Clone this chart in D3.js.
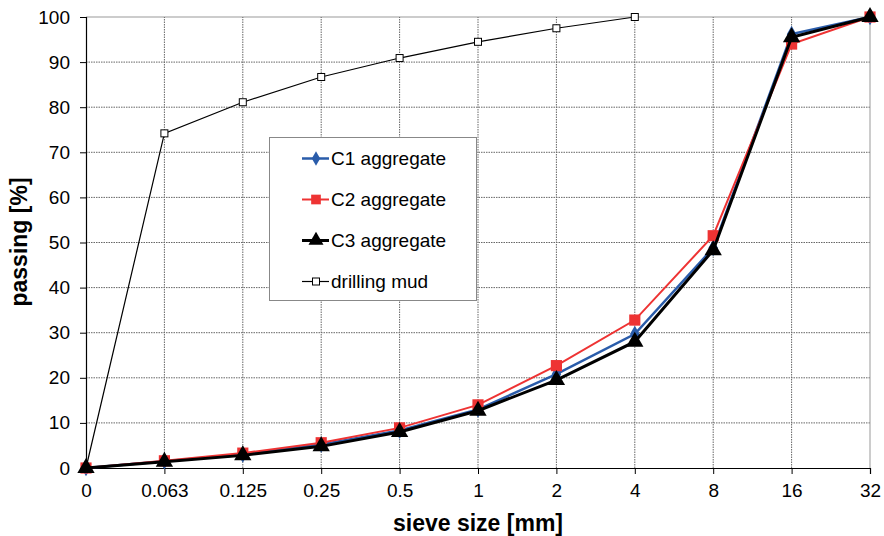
<!DOCTYPE html>
<html>
<head>
<meta charset="utf-8">
<script src="https://cdn.jsdelivr.net/npm/d3@7"></script>
<style>
  body { margin: 0; background: #fff; }
  svg { font-family: "Liberation Sans", Arial, sans-serif; }
</style>
</head>
<body>
<svg width="884" height="536"></svg>
<script>
(() => {

    var width = 884;
    var height = 536;
    var margin = { top: 17, bottom: 68, left: 86, right: 14 };

    // sieve sizes (categories, equally spaced)
    var sieves = ["0", "0.063", "0.125", "0.25", "0.5", "1", "2", "4", "8", "16", "32"];
    var yTicks = [0, 10, 20, 30, 40, 50, 60, 70, 80, 90, 100];

    // passing [%]
    var c1 = [0, 1.5, 3.0, 5.2, 8.3, 13.0, 20.8, 29.7, 48.8, 96.2, 100];
    var c2 = [0, 1.6, 3.3, 5.6, 8.9, 14.0, 22.7, 32.8, 51.5, 94.0, 100];
    var c3 = [0, 1.4, 2.8, 4.8, 8.0, 12.7, 19.5, 28.0, 48.3, 95.5, 100];
    var mud = [0, 74.2, 81.1, 86.7, 90.9, 94.5, 97.5, 100];

    var svg = d3.select('svg');

    var x = d3.scalePoint().domain(sieves).range([margin.left, width - margin.right]);
    var y = d3.scaleLinear().domain([0, 100]).range([height - margin.bottom, margin.top]);

    // grid
    var grid = svg.append('g');
    grid.selectAll('line.h')
        .data(yTicks.slice(1))
        .enter().append('line')
        .attr('x1', margin.left).attr('x2', width - margin.right)
        .attr('y1', d => y(d)).attr('y2', d => y(d))
        .attr('stroke-width', 1)
        .attr('stroke-dasharray', d => d === 100 ? null : '1.5,1')
        .attr('stroke', d => d === 100 ? '#999' : '#666');
    grid.selectAll('line.v')
        .data(sieves.slice(1))
        .enter().append('line')
        .attr('x1', d => x(d)).attr('x2', d => x(d))
        .attr('y1', y(0)).attr('y2', y(100))
        .attr('stroke', d => d === '32' ? '#999' : '#666').attr('stroke-width', 1)
        .attr('stroke-dasharray', d => d === '32' ? null : '1.5,1');

    // axes
    var xAxis = svg.append('g')
        .attr('transform', 'translate(' + [0, y(0)] + ')')
        .call(d3.axisBottom(x).tickSize(6).tickPadding(10));
    var yAxis = svg.append('g')
        .attr('transform', 'translate(' + [margin.left, 0] + ')')
        .call(d3.axisLeft(y).tickValues(yTicks).tickSize(6).tickPadding(10));

    [xAxis, yAxis].forEach(a => {
        a.select('.domain').attr('stroke', '#000').attr('stroke-width', 1.2);
        a.selectAll('.tick line').attr('stroke', '#000');
        a.selectAll('text').attr('font-size', 19).attr('fill', '#000')
            .attr('font-family', '"Liberation Sans", Arial, sans-serif');
    });

    svg.append('text')
        .attr('x', (margin.left + width - margin.right) / 2)
        .attr('y', 531)
        .attr('text-anchor', 'middle')
        .attr('font-size', 23).attr('font-weight', 'bold')
        .text('sieve size [mm]');

    svg.append('text')
        .attr('transform', 'translate(27,' + 242 + ') rotate(-90)')
        .attr('text-anchor', 'middle')
        .attr('font-size', 23).attr('font-weight', 'bold')
        .text('passing [%]');

    var line = d3.line()
        .x((d, i) => x(sieves[i]))
        .y(d => y(d));

    var series = [
        { name: 'drilling mud', values: mud, color: '#000', width: 1.2, symbol: 'mud', size: 7 },
        { name: 'C1 aggregate', values: c1, color: '#2a5caa', width: 2.5, symbol: d3.symbolDiamond, size: 80 },
        { name: 'C2 aggregate', values: c2, color: '#ee3333', width: 2, symbol: d3.symbolSquare, size: 125 },
        { name: 'C3 aggregate', values: c3, color: '#000', width: 3, symbol: d3.symbolTriangle, size: 130 }
    ];

    function drawMarker(g, s, cx, cy, scale) {
        if (s.symbol === 'mud') {
            var w = s.size * (scale || 1);
            g.append('rect')
                .attr('x', cx - w / 2).attr('y', cy - w / 2)
                .attr('width', w).attr('height', w)
                .attr('fill', '#fff').attr('stroke', '#000').attr('stroke-width', 1);
        } else {
            g.append('path')
                .attr('d', d3.symbol().type(s.symbol).size(s.size * (scale || 1))())
                .attr('transform', 'translate(' + [cx, cy] + ')')
                .attr('fill', s.color);
        }
    }

    series.forEach(s => {
        var g = svg.append('g');
        g.append('path')
            .datum(s.values)
            .attr('d', line)
            .attr('fill', 'none')
            .attr('stroke', s.color)
            .attr('stroke-width', s.width);
        s.values.forEach((v, i) => drawMarker(g, s, x(sieves[i]), y(v)));
    });

    // legend
    var legend = svg.append('g');
    legend.append('rect')
        .attr('x', 269.5).attr('y', 137.5)
        .attr('width', 207).attr('height', 163)
        .attr('fill', '#fff').attr('stroke', '#888').attr('stroke-width', 1);

    var legendOrder = [series[1], series[2], series[3], series[0]];
    legendOrder.forEach((s, i) => {
        var ly = 158.5 + i * 41;
        legend.append('line')
            .attr('x1', 302).attr('x2', 329)
            .attr('y1', ly).attr('y2', ly)
            .attr('stroke', s.color).attr('stroke-width', s.width);
        drawMarker(legend, s, 316, ly, s.symbol === 'mud' ? 1 : 0.75);
        legend.append('text')
            .attr('x', 331).attr('y', ly + 6.5)
            .attr('font-size', 19)
            .text(s.name);
    });

})();
</script>
</body>
</html>
